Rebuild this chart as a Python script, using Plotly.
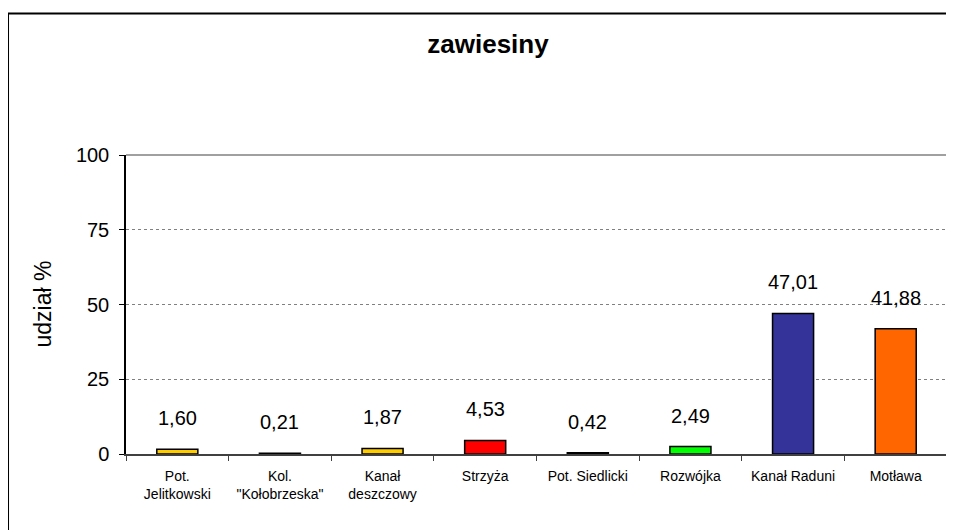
import plotly.graph_objects as go

categories = ["Pot.<br>Jelitkowski", "Kol.<br>\"Kołobrzeska\"", "Kanał<br>deszczowy", "Strzyża",
              "Pot. Siedlicki", "Rozwójka", "Kanał Raduni", "Motława"]
values = [1.60, 0.21, 1.87, 4.53, 0.42, 2.49, 47.01, 41.88]
colors = ["#FFCC00", "#993366", "#FFCC00", "#FF0000", "#000000", "#00FF00", "#333399", "#FF6600"]
y_ticks = [0, 25, 50, 75, 100]

FONT = "Liberation Sans, Arial, sans-serif"

fig = go.Figure()
fig.add_trace(go.Bar(
    x=categories, y=values,
    marker=dict(color=colors, line=dict(color="#000000", width=1.5)),
    hoverinfo="skip",
))

annotations = []
for c, v in zip(categories, values):
    annotations.append(dict(
        x=c, y=v, xref="x", yref="y",
        text=f"{v:.2f}".replace(".", ","),
        showarrow=False, yanchor="middle", yshift=31,
        font=dict(family=FONT, size=20, color="#000000"),
    ))

annotations.append(dict(
    x=-0.1023, y=0.5, xref="paper", yref="paper",
    text="udział %", textangle=-90, showarrow=False,
    xanchor="center", yanchor="middle",
    font=dict(family=FONT, size=23, color="#000000"),
))

shapes = [
    # plot area top & right border (gray)
    dict(type="line", xref="paper", yref="paper", x0=0, x1=1, y0=1, y1=1,
         line=dict(color="#808080", width=1.5)),
    dict(type="line", xref="paper", yref="paper", x0=1, x1=1, y0=0, y1=1,
         line=dict(color="#808080", width=1.5)),
    # outer chart frame (left and top visible)
    dict(type="path", xref="paper", yref="paper",
         path="M -0.1437,-0.5 L -0.1437,1.4732 L 1.2,1.4732",
         line=dict(color="#000000", width=2)),
]

fig.update_layout(
    width=954, height=530,
    margin=dict(l=118, r=15, t=147, b=84),
    paper_bgcolor="#FFFFFF", plot_bgcolor="#FFFFFF",
    showlegend=False,
    bargap=0.6,
    title=dict(text="<b>zawiesiny</b>", x=480 / 954, y=1 - 36 / 530, xref="container", yref="container",
               xanchor="center", yanchor="middle",
               font=dict(family=FONT, size=26, color="#000000")),
    annotations=annotations,
    shapes=shapes,
    xaxis=dict(
        showgrid=False, showline=True, linecolor="#404040", linewidth=1.5,
        ticks="outside", tickson="boundaries", ticklen=5, tickcolor="#404040",
        tickfont=dict(family=FONT, size=14, color="#000000"),
        ticklabelstandoff=8,
        fixedrange=True,
    ),
    yaxis=dict(
        range=[0, 100], tickvals=y_ticks,
        showgrid=True, gridcolor="#808080", griddash="dot", gridwidth=1,
        showline=True, linecolor="#000000", linewidth=1.5,
        ticks="outside", ticklen=5, tickcolor="#000000",
        tickfont=dict(family=FONT, size=20, color="#000000"),
        ticklabelstandoff=6,
        zeroline=False, fixedrange=True,
    ),
)

fig.write_html("out.html", config={"displayModeBar": False})
